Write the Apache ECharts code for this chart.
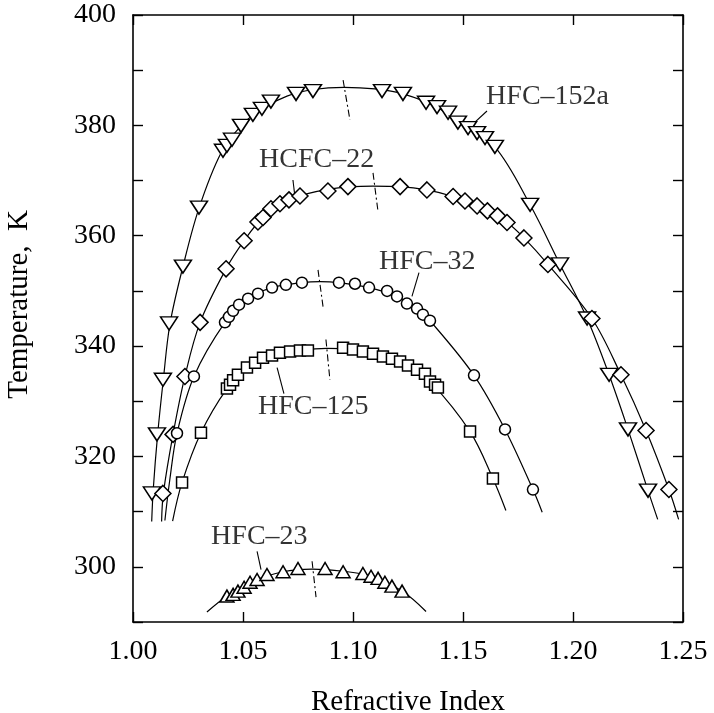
<!DOCTYPE html>
<html><head><meta charset="utf-8">
<script src="https://cdn.jsdelivr.net/npm/echarts@6/dist/echarts.min.js"></script>
<style>html,body{margin:0;padding:0;background:#fff}#c{width:714px;height:713px}</style>
</head><body><div id="c"></div>
<script>
// ---- tick labels ----
const xTickLabels = ['1.00','1.05','1.10','1.15','1.20','1.25'];
const yTickLabels = [300, 320, 340, 360, 380, 400];
const xName = 'Refractive Index';
const yName = 'Temperature,  K';

// ---- substances ----
const names = ['HFC–152a', 'HCFC–22', 'HFC–32', 'HFC–125', 'HFC–23'];

// measured points [refractive index, temperature K]
const pts152a = [[1.0086,313.3],[1.0109,324.0],[1.0136,333.9],[1.0164,344.1],[1.0227,354.4],[1.0300,365.1],[1.0409,375.4],[1.0427,376.3],[1.0450,377.4],[1.0491,379.9],[1.0545,381.9],[1.0586,383.0],[1.0627,384.3],[1.0741,385.7],[1.0818,386.2],[1.1132,386.2],[1.1227,385.7],[1.1332,384.1],[1.1382,383.3],[1.1432,382.3],[1.1477,380.5],[1.1523,379.5],[1.1564,378.6],[1.1600,377.7],[1.1645,376.1],[1.1805,365.6],[1.1941,354.8],[1.2064,345.0],[1.2164,334.8],[1.2250,324.9],[1.2341,313.8]];
const pts22 = [[1.0136,313.3],[1.0182,324.0],[1.0236,334.5],[1.0305,344.3],[1.0423,354.0],[1.0505,359.1],[1.0568,362.5],[1.0591,363.3],[1.0627,364.9],[1.0668,365.8],[1.0709,366.5],[1.0759,367.2],[1.0886,368.1],[1.0977,368.9],[1.1214,368.9],[1.1336,368.3],[1.1455,367.1],[1.1509,366.3],[1.1564,365.4],[1.1611,364.5],[1.1657,363.6],[1.1700,362.4],[1.1777,359.6],[1.1886,354.8],[1.2086,345.0],[1.2218,334.8],[1.2332,324.7],[1.2436,314.0]];
const pts32 = [[1.0200,324.2],[1.0277,334.5],[1.0418,344.3],[1.0436,345.3],[1.0455,346.4],[1.0482,347.5],[1.0523,348.6],[1.0568,349.5],[1.0632,350.6],[1.0695,351.1],[1.0768,351.5],[1.0936,351.5],[1.1009,351.3],[1.1073,350.6],[1.1155,350.0],[1.1200,349.0],[1.1245,347.7],[1.1291,346.8],[1.1318,345.7],[1.1350,344.6],[1.1550,334.7],[1.1691,324.9],[1.1818,314.0]];
const pts125 = [[1.0223,315.3],[1.0309,324.3],[1.0427,332.3],[1.0441,333.0],[1.0455,333.8],[1.0477,334.8],[1.0518,336.1],[1.0555,337.0],[1.0591,337.9],[1.0632,338.3],[1.0668,338.8],[1.0714,339.0],[1.0759,339.2],[1.0795,339.2],[1.0955,339.7],[1.1000,339.4],[1.1045,339.0],[1.1091,338.6],[1.1136,338.1],[1.1177,337.7],[1.1214,337.2],[1.1250,336.5],[1.1291,335.7],[1.1327,335.0],[1.1350,333.6],[1.1373,333.0],[1.1386,332.5],[1.1532,324.5],[1.1636,316.0]];
const pts23 = [[1.0427,294.7],[1.0455,295.0],[1.0477,295.6],[1.0505,296.3],[1.0532,297.2],[1.0564,297.7],[1.0609,298.6],[1.0682,299.1],[1.0750,299.7],[1.0873,299.7],[1.0955,299.1],[1.1045,298.8],[1.1082,298.3],[1.1114,297.9],[1.1145,297.2],[1.1177,296.5],[1.1223,295.6]];

// fitted curves
const fit152a = [[1.0085,308.2],[1.0092,314],[1.0112,324],[1.0138,334],[1.0168,344],[1.0227,354.4],[1.0300,365],[1.0400,375],[1.0491,379.9],[1.0586,383.0],[1.0700,385.3],[1.0820,386.5],[1.0960,386.9],[1.1100,386.6],[1.1227,385.7],[1.1382,383.3],[1.1500,380.0],[1.1645,376.1],[1.1805,365.6],[1.1941,354.8],[1.2064,345.0],[1.2164,334.8],[1.2250,324.9],[1.2341,313.8],[1.2385,308.6]];
const fit22 = [[1.0130,308.2],[1.0138,313.3],[1.0182,324.0],[1.0236,334.5],[1.0305,344.3],[1.0423,354.0],[1.0505,359.1],[1.0591,363.3],[1.0709,366.5],[1.0886,368.4],[1.1090,369.0],[1.1214,368.9],[1.1336,368.3],[1.1455,367.1],[1.1564,365.4],[1.1700,362.4],[1.1777,359.6],[1.1886,354.8],[1.2086,345.0],[1.2218,334.8],[1.2332,324.7],[1.2436,314.0],[1.2480,308.6]];
const fit32 = [[1.0145,308.4],[1.0168,316.0],[1.0200,324.2],[1.0277,334.5],[1.0418,344.3],[1.0523,348.6],[1.0632,350.6],[1.0768,351.5],[1.0850,351.7],[1.0936,351.5],[1.1073,350.6],[1.1200,349.0],[1.1291,346.8],[1.1350,344.6],[1.1550,334.7],[1.1691,324.9],[1.1818,314.0],[1.1860,309.9]];
const fit125 = [[1.0180,308.3],[1.0223,315.3],[1.0309,324.3],[1.0427,332.3],[1.0518,336.1],[1.0632,338.3],[1.0759,339.2],[1.0880,339.6],[1.1000,339.4],[1.1136,338.1],[1.1250,336.5],[1.1350,333.6],[1.1532,324.5],[1.1636,316.0],[1.1695,310.2]];
const fit23 = [[1.0336,291.8],[1.0427,294.7],[1.0532,297.2],[1.0682,299.1],[1.0814,299.6],[1.0955,299.2],[1.1082,298.3],[1.1223,295.6],[1.1332,291.9]];

// dash-dot critical marks [top, bottom]
const mark152a = [[1.0955,388.2],[1.0986,381.0]];
const mark22 = [[1.1091,371.4],[1.1114,364.3]];
const mark32 = [[1.0841,353.8],[1.0864,347.1]];
const mark125 = [[1.0877,341.2],[1.0895,333.9]];
const mark23 = [[1.0814,301.0],[1.0832,294.5]];

// label anchors (left/middle of text) and leader lines
const labelAt = [[1.1605,385.2],[1.0573,373.8],[1.1118,355.3],[1.0568,329.1],[1.0355,305.5]];
const leaders = [
  [[1.1609,382.6],[1.1536,379.9]],
  [[1.0727,370.1],[1.0736,367.1]],
  [[1.1300,353.3],[1.1268,349.0]],
  [[1.0655,336.1],[1.0686,331.4]],
  [[1.0564,302.8],[1.0582,299.5]]
];

const allPts = [pts152a, pts22, pts32, pts125, pts23];
const allFits = [fit152a, fit22, fit32, fit125, fit23];
const allMarks = [mark152a, mark22, mark32, mark125, mark23];

// ---- styles ----
const FONT = '"Liberation Serif", "Times New Roman", serif';
const symbols = [
  {symbol:'triangle', size:[17,13], rotate:180},
  {symbol:'diamond', size:[16,16], rotate:0},
  {symbol:'circle', size:11, rotate:0},
  {symbol:'rect', size:11, rotate:0},
  {symbol:'triangle', size:[14,12], rotate:0}
];

const series = [];
allFits.forEach((f,i)=>series.push({type:'line', data:f, smooth:0.35, showSymbol:false, symbol:'none',
  lineStyle:{color:'#000', width:1.2}, z:2, silent:true}));
allMarks.forEach((m,i)=>series.push({type:'line', data:m, showSymbol:false, symbol:'none',
  lineStyle:{color:'#000', width:1.1, type:[7,3,2,3]}, z:2, silent:true}));
leaders.forEach(l=>series.push({type:'line', data:l, showSymbol:false, symbol:'none',
  lineStyle:{color:'#000', width:1.1}, z:2, silent:true}));
allPts.forEach((p,i)=>series.push({type:'scatter', name:names[i], data:p,
  symbol:symbols[i].symbol, symbolSize:symbols[i].size, symbolRotate:symbols[i].rotate,
  itemStyle:{color:'#fff', borderColor:'#000', borderWidth:1.5, opacity:1}, z:5}));
series.push({type:'scatter', data:labelAt.map((a,i)=>({value:a, name:names[i]})), symbolSize:0, z:6,
  label:{show:true, position:'right', distance:0, formatter:p=>p.name, color:'#000', fontSize:28, fontFamily:FONT}});

const axisCommon = {
  axisLine:{show:true, onZero:false, lineStyle:{color:'#000', width:1.6}},
  axisTick:{show:true, inside:true, length:10, lineStyle:{color:'#000', width:1.4}},
  splitLine:{show:false}
};

const option = {
  backgroundColor:'#fff',
  animation:false,
  grid:{left:133, right:31, top:15, bottom:91, containLabel:false, outerBoundsMode:'none'},
  xAxis:[
    Object.assign({type:'value', min:1.00, max:1.25, interval:0.05, position:'bottom',
      axisLabel:{show:true, margin:16, color:'#000', fontSize:28, fontFamily:FONT,
        formatter:v=>{const s=v.toFixed(2); return xTickLabels.includes(s)?s:'';}},
      name:xName, nameLocation:'middle', nameGap:66,
      nameTextStyle:{color:'#000', fontSize:29, fontFamily:FONT}}, axisCommon),
    Object.assign({type:'value', min:1.00, max:1.25, interval:0.05, position:'top',
      axisLabel:{show:false}}, axisCommon)
  ],
  yAxis:[
    Object.assign({type:'value', min:290, max:400, interval:10, position:'left',
      axisLabel:{show:true, margin:17, color:'#000', fontSize:28, fontFamily:FONT,
        formatter:v=>yTickLabels.includes(Math.round(v))?String(Math.round(v)):''}}, axisCommon),
    Object.assign({type:'value', min:290, max:400, interval:10, position:'right',
      axisLabel:{show:false}}, axisCommon)
  ],
  graphic:[{type:'text', left:5, top:210, rotation:Math.PI/2,
    style:{text:yName, fill:'#000', font:'29px '+FONT}}],
  series:series
};
const chart = echarts.init(document.getElementById('c'), null, {renderer:'canvas'});
chart.setOption(option);
</script></body></html>
